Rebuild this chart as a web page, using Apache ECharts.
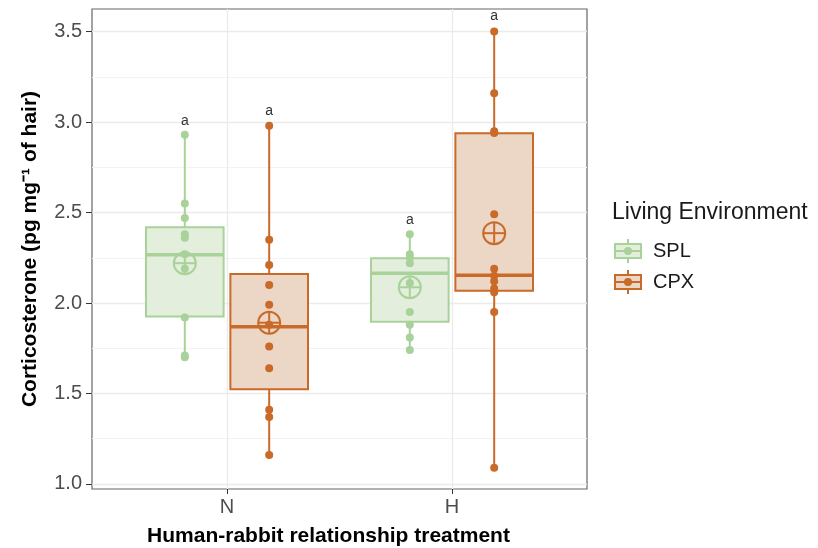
<!DOCTYPE html>
<html><head><meta charset="utf-8">
<script src="https://cdn.jsdelivr.net/npm/echarts@6/dist/echarts.min.js"></script>
<style>html,body{margin:0;padding:0;background:#fff}#c{width:818px;height:548px}</style>
</head><body><div id="c"></div>
<script>
// ---- data ----
const treatments = ['N', 'H'];
const groups = ['SPL', 'CPX'];
const yTicks = [1.0, 1.5, 2.0, 2.5, 3.0, 3.5];
const yMinorTicks = [1.25, 1.75, 2.25, 2.75, 3.25];

const splPointsN = [2.93, 2.55, 2.47, 2.38, 2.36, 2.27, 2.19, 1.92, 1.71, 1.70];
const splPointsH = [2.38, 2.27, 2.25, 2.22, 2.11, 1.95, 1.88, 1.81, 1.74];
const cpxPointsN = [2.98, 2.35, 2.21, 2.10, 1.99, 1.88, 1.76, 1.64, 1.41, 1.37, 1.16];
const cpxPointsH = [3.50, 3.16, 2.95, 2.94, 2.49, 2.19, 2.15, 2.12, 2.08, 2.06, 1.95, 1.09];

// box statistics per treatment [N, H]
const splLow = [1.70, 1.735];
const splQ1 = [1.925, 1.897];
const splMedian = [2.267, 2.164];
const splQ3 = [2.419, 2.247];
const splHigh = [2.93, 2.383];
const splMean = [2.22, 2.087];
const splLetters = ['a', 'a'];

const cpxLow = [1.156, 1.09];
const cpxQ1 = [1.523, 2.068];
const cpxMedian = [1.869, 2.153];
const cpxQ3 = [2.161, 2.938];
const cpxHigh = [2.983, 3.509];
const cpxMean = [1.891, 2.386];
const cpxLetters = ['a', 'a'];

// ---- styling ----
const SPL_STROKE = '#a8d29a', SPL_FILL = '#e4eedc';
const CPX_STROKE = '#c96a28', CPX_FILL = '#ecd6c5';
const DODGE = 0.1875, HALF_W = 0.1725;
const FONT = '"Liberation Sans", Arial, sans-serif';

function boxSeries(name, dodge, low, q1, med, q3, high, letters, stroke, fill) {
  const data = treatments.map((t, i) => [i + 1, low[i], q1[i], med[i], q3[i], high[i]]);
  return {
    type: 'custom', name, data, z: 2,
    encode: { x: 0, y: [1, 5] },
    renderItem(params, api) {
      const x = api.value(0) + dodge;
      const cx = api.coord([x, 0])[0];
      const hw = api.size([HALF_W, 0])[0];
      const yL = api.coord([x, api.value(1)])[1];
      const y1 = api.coord([x, api.value(2)])[1];
      const yM = api.coord([x, api.value(3)])[1];
      const y3 = api.coord([x, api.value(4)])[1];
      const yH = api.coord([x, api.value(5)])[1];
      const ls = { stroke, lineWidth: 2 };
      return { type: 'group', children: [
        { type: 'rect', shape: { x: cx - hw, y: y3, width: 2 * hw, height: y1 - y3 }, style: { fill, stroke, lineWidth: 2 } },
        { type: 'line', shape: { x1: cx, y1: yH, x2: cx, y2: y3 }, style: ls },
        { type: 'line', shape: { x1: cx, y1: y1, x2: cx, y2: yL }, style: ls },
        { type: 'line', shape: { x1: cx - hw, y1: yM, x2: cx + hw, y2: yM }, style: { stroke, lineWidth: 3.5 } },
        { type: 'text', x: cx, y: yH - 14, style: { text: letters[params.dataIndex], fill: '#333', font: '14px ' + FONT, align: 'center', verticalAlign: 'middle' } }
      ] };
    }
  };
}

function meanSeries(name, dodge, mean, stroke) {
  const data = treatments.map((t, i) => [i + 1, mean[i]]);
  return {
    type: 'custom', name, data, z: 5,
    encode: { x: 0, y: 1 },
    renderItem(params, api) {
      const p = api.coord([api.value(0) + dodge, api.value(1)]);
      const r = 11;
      const ls = { stroke, lineWidth: 2, fill: null };
      return { type: 'group', children: [
        { type: 'circle', shape: { cx: p[0], cy: p[1], r }, style: { stroke, lineWidth: 2, fill: 'none' } },
        { type: 'line', shape: { x1: p[0] - r, y1: p[1], x2: p[0] + r, y2: p[1] }, style: ls },
        { type: 'line', shape: { x1: p[0], y1: p[1] - r, x2: p[0], y2: p[1] + r }, style: ls }
      ] };
    }
  };
}

function pointSeries(name, dodge, ptsN, ptsH, color) {
  const data = [];
  ptsN.forEach(v => data.push([1 + dodge, v]));
  ptsH.forEach(v => data.push([2 + dodge, v]));
  return { type: 'scatter', name, data, z: 4, symbol: 'circle', symbolSize: 8, itemStyle: { color, opacity: 1 }, silent: true };
}

function legendKey(cy, stroke, fill, label) {
  const cx = 628;
  return { type: 'group', children: [
    { type: 'line', shape: { x1: cx, y1: cy - 12, x2: cx, y2: cy - 7 }, style: { stroke, lineWidth: 2 } },
    { type: 'line', shape: { x1: cx, y1: cy + 7, x2: cx, y2: cy + 12 }, style: { stroke, lineWidth: 2 } },
    { type: 'rect', shape: { x: cx - 13, y: cy - 7, width: 26, height: 14 }, style: { fill, stroke, lineWidth: 2 } },
    { type: 'line', shape: { x1: cx - 13, y1: cy, x2: cx + 13, y2: cy }, style: { stroke, lineWidth: 2 } },
    { type: 'circle', shape: { cx, cy, r: 4 }, style: { fill: stroke } },
    { type: 'text', x: 653, y: cy, style: { text: label, font: '20px ' + FONT, fill: '#1a1a1a', verticalAlign: 'middle' } }
  ] };
}

const chart = echarts.init(document.getElementById('c'), null, { renderer: 'canvas' });
chart.setOption({
  backgroundColor: '#fff',
  animation: false,
  grid: { left: 92, right: 231, top: 9, bottom: 59, show: true, borderColor: '#666', borderWidth: 1.2, backgroundColor: 'transparent', outerBoundsMode: 'none', containLabel: false },
  xAxis: {
    type: 'value', min: 0.4, max: 2.6,
    axisLine: { show: false },
    axisTick: { show: true, length: 5, lineStyle: { color: '#333' }, customValues: [1, 2] },
    axisLabel: { customValues: [1, 2], formatter: v => treatments[Math.round(v) - 1] || '', color: '#4d4d4d', fontSize: 20, fontFamily: FONT, margin: 8 },
    splitLine: { show: true, lineStyle: { color: '#ebebeb', width: 1.3 } },
    name: 'Human-rabbit relationship treatment', nameLocation: 'middle', nameGap: 37,
    nameTextStyle: { fontWeight: 'bold', fontSize: 21, color: '#000', fontFamily: FONT, padding: [0, 22, 0, 0] }
  },
  yAxis: [{
    type: 'value', min: 0.972, max: 3.625,
    axisLine: { show: false },
    axisTick: { show: true, length: 6, lineStyle: { color: '#333' }, customValues: yTicks },
    axisLabel: { customValues: yTicks, formatter: v => v.toFixed(1), color: '#4d4d4d', fontSize: 20, fontFamily: FONT, margin: 10 },
    splitLine: { show: true, lineStyle: { color: '#ebebeb', width: 1.3 } },
    name: 'Corticosterone (pg mg\u207B\u00B9 of hair)', nameLocation: 'middle', nameGap: 51,
    nameTextStyle: { fontWeight: 'bold', fontSize: 21, color: '#000', fontFamily: FONT }
  }, {
    type: 'value', min: 0.972, max: 3.625, position: 'left',
    axisLine: { show: false }, axisTick: { show: false, customValues: yMinorTicks },
    axisLabel: { show: false, customValues: yMinorTicks },
    splitLine: { show: true, lineStyle: { color: '#f3f3f3', width: 1 } }
  }],
  graphic: [
    { type: 'text', left: 612, top: 201, style: { text: 'Living Environment', font: '23px ' + FONT, fill: '#1a1a1a' } },
    legendKey(251, SPL_STROKE, SPL_FILL, groups[0]),
    legendKey(282, CPX_STROKE, CPX_FILL, groups[1])
  ],
  series: [
    boxSeries(groups[0], -DODGE, splLow, splQ1, splMedian, splQ3, splHigh, splLetters, SPL_STROKE, SPL_FILL),
    boxSeries(groups[1], DODGE, cpxLow, cpxQ1, cpxMedian, cpxQ3, cpxHigh, cpxLetters, CPX_STROKE, CPX_FILL),
    pointSeries(groups[0], -DODGE, splPointsN, splPointsH, SPL_STROKE),
    pointSeries(groups[1], DODGE, cpxPointsN, cpxPointsH, CPX_STROKE),
    meanSeries(groups[0], -DODGE, splMean, SPL_STROKE),
    meanSeries(groups[1], DODGE, cpxMean, CPX_STROKE)
  ]
});
</script>
</body></html>
